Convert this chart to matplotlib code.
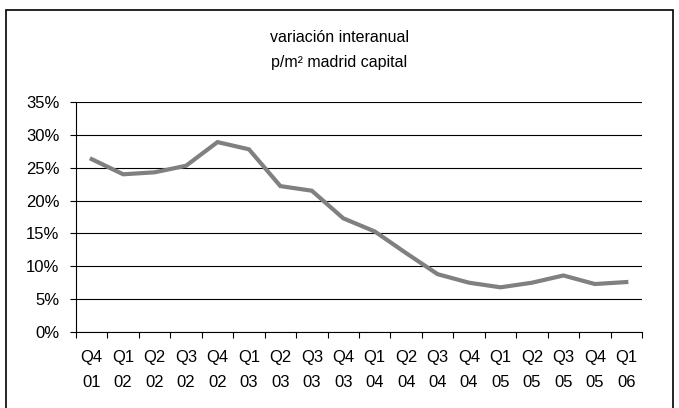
import matplotlib
matplotlib.use('Agg')
import matplotlib.pyplot as plt
from matplotlib.patches import Rectangle
from matplotlib.ticker import FixedLocator, PercentFormatter

plt.rcParams['font.family'] = ['Liberation Sans', 'DejaVu Sans']

# Data
quarters = ['Q4\n01', 'Q1\n02', 'Q2\n02', 'Q3\n02', 'Q4\n02', 'Q1\n03', 'Q2\n03', 'Q3\n03', 'Q4\n03',
            'Q1\n04', 'Q2\n04', 'Q3\n04', 'Q4\n04', 'Q1\n05', 'Q2\n05', 'Q3\n05', 'Q4\n05', 'Q1\n06']
variation = [26.3, 24.0, 24.3, 25.3, 28.9, 27.8, 22.2, 21.5, 17.3,
             15.3, 12.0, 8.8, 7.5, 6.8, 7.5, 8.6, 7.3, 7.6]
y_ticks = [0, 5, 10, 15, 20, 25, 30, 35]

W, H = 679, 408
fig = plt.figure(figsize=(W / 100, H / 100), dpi=100)
ax = fig.add_axes([76 / W, 1 - 332 / H, (642 - 76) / W, (332 - 102) / H])

x = list(range(len(quarters)))
ax.plot(x, variation, color='#808080', lw=3, solid_joinstyle='miter', zorder=3)

ax.set_xlim(-0.5, len(quarters) - 0.5)
ax.set_ylim(0, 35)
ax.yaxis.set_major_locator(FixedLocator(y_ticks))
ax.yaxis.set_major_formatter(PercentFormatter(decimals=0))
ax.grid(axis='y', color='black', lw=0.8)
ax.set_axisbelow(True)

ax.set_xticks(x)
ax.set_xticklabels(quarters, fontsize=12, linespacing=1.85)
ax.tick_params(axis='x', which='major', length=0, pad=13)
ax.set_xticks([i - 0.5 for i in range(len(quarters) + 1)], minor=True)
ax.tick_params(axis='x', which='minor', length=4, width=0.8, direction='out')
ax.tick_params(axis='y', length=4, width=0.8, labelsize=12, pad=8)

for s in ['top', 'right']:
    ax.spines[s].set_visible(False)
for s in ['left', 'bottom']:
    ax.spines[s].set_linewidth(0.8)

fig.text(0.5, 1 - 42 / H, 'variación interanual', ha='center', va='baseline', fontsize=11.5)
fig.text(0.5, 1 - 67 / H, 'p/m² madrid capital', ha='center', va='baseline', fontsize=11.5)

fig.patches.append(Rectangle((6 / W, -0.1), (673 - 6) / W, 1.1 - 10 / H,
                             transform=fig.transFigure, fill=False,
                             edgecolor='black', lw=1.2))

fig.savefig('out.png', dpi=100)
